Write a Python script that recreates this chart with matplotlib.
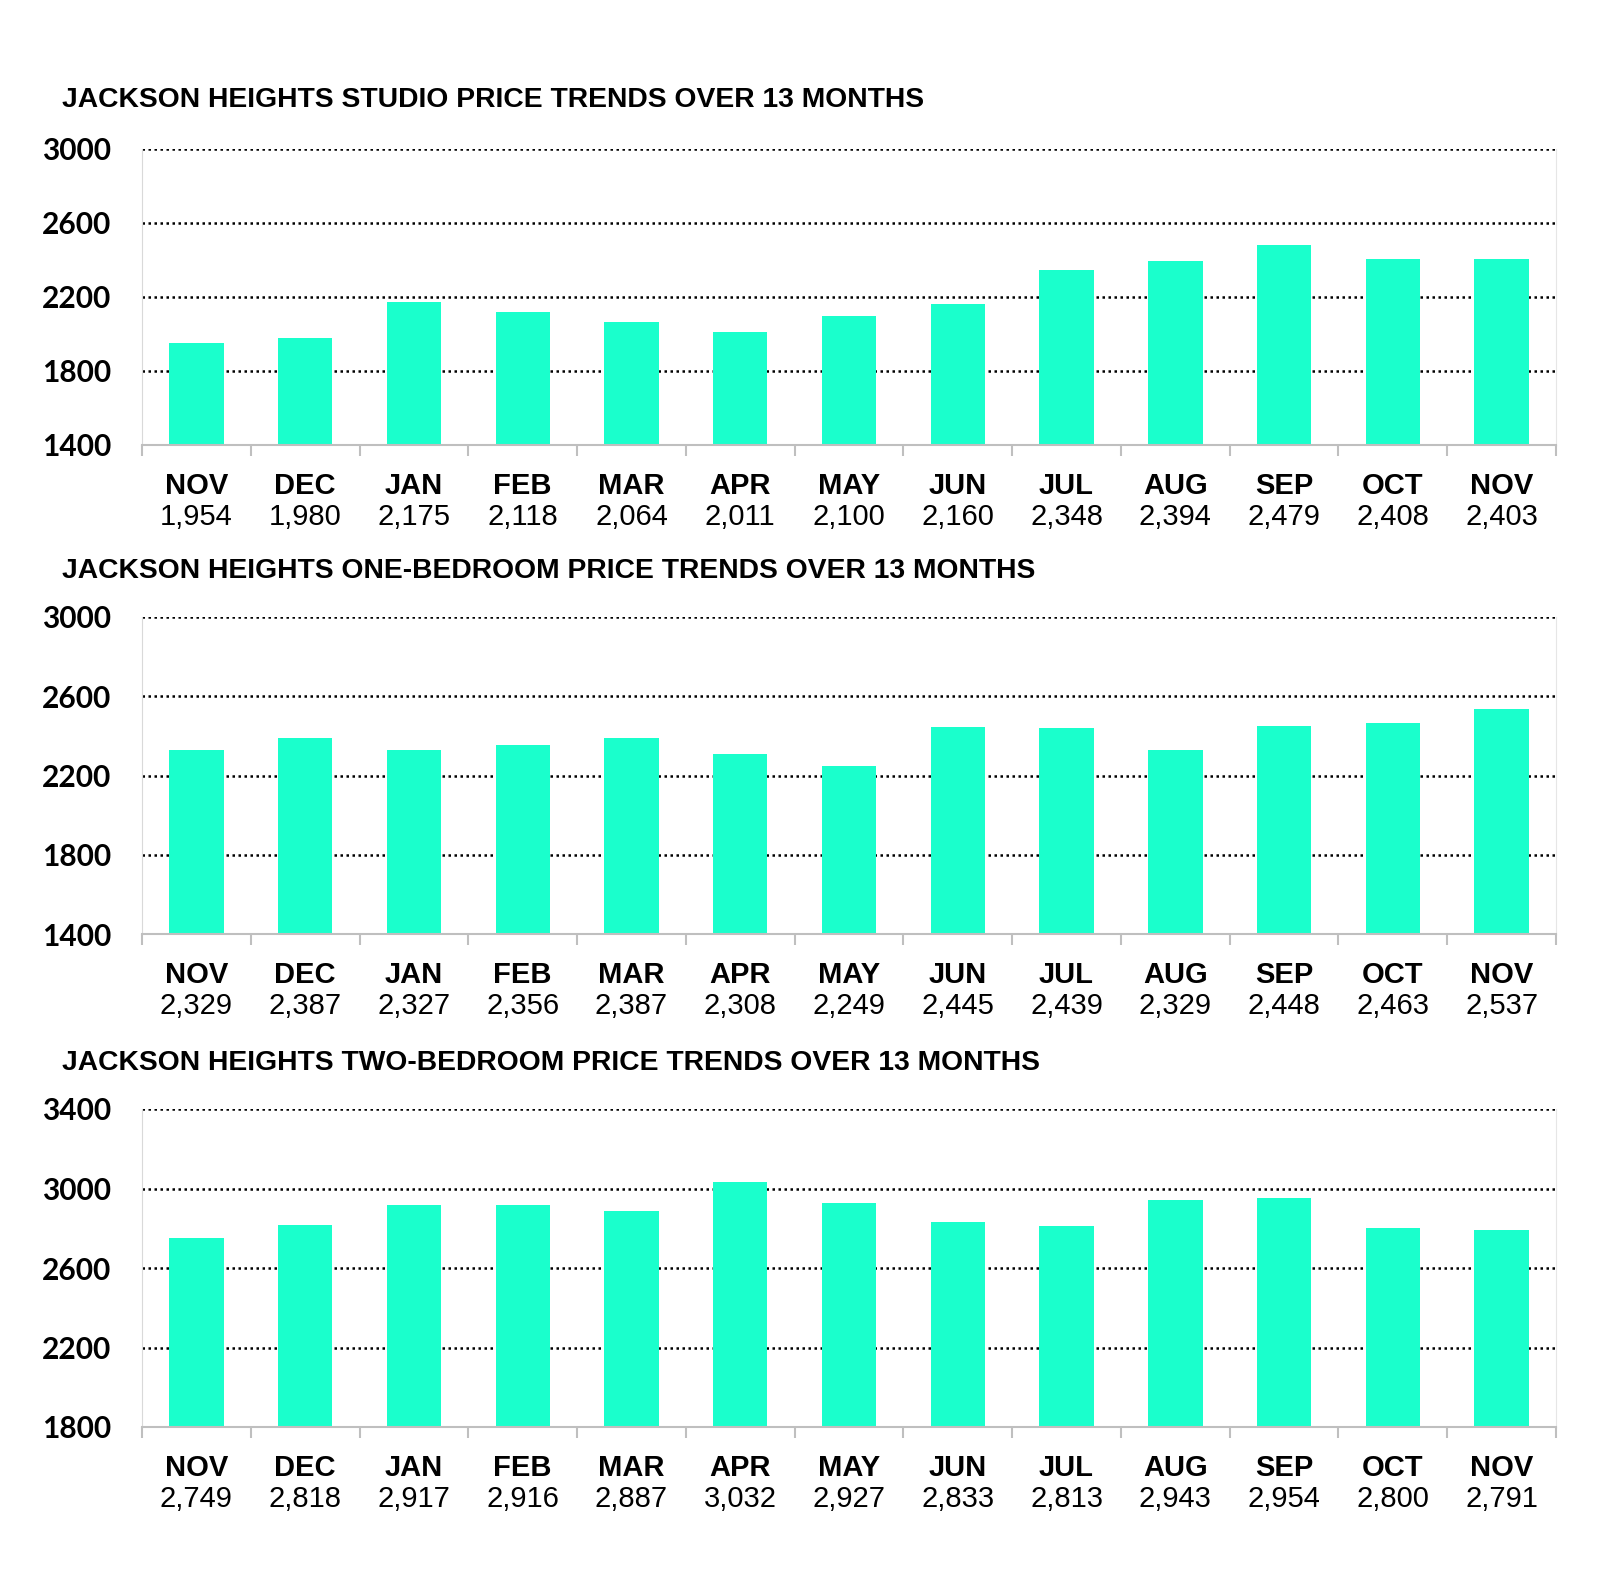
import matplotlib
matplotlib.use("Agg")
import matplotlib.pyplot as plt

# データ
months = ["NOV", "DEC", "JAN", "FEB", "MAR", "APR", "MAY",
          "JUN", "JUL", "AUG", "SEP", "OCT", "NOV"]
studio = [1954, 1980, 2175, 2118, 2064, 2011, 2100, 2160, 2348, 2394, 2479, 2408, 2403]
one_bed = [2329, 2387, 2327, 2356, 2387, 2308, 2249, 2445, 2439, 2329, 2448, 2463, 2537]
two_bed = [2749, 2818, 2917, 2916, 2887, 3032, 2927, 2833, 2813, 2943, 2954, 2800, 2791]

titles = [
    "JACKSON HEIGHTS STUDIO PRICE TRENDS OVER 13 MONTHS",
    "JACKSON HEIGHTS ONE-BEDROOM PRICE TRENDS OVER 13 MONTHS",
    "JACKSON HEIGHTS TWO-BEDROOM PRICE TRENDS OVER 13 MONTHS",
]
y_ticks = [
    [1400, 1800, 2200, 2600, 3000],
    [1400, 1800, 2200, 2600, 3000],
    [1800, 2200, 2600, 3000, 3400],
]

BAR_COLOR = "#1affcc"
W, H = 1600, 1596

fig = plt.figure(figsize=(W / 100, H / 100), dpi=100)

# (axes top px, axes bottom px, title y px)
layout = [(149, 445, 100), (617, 934, 571), (1109, 1427, 1063)]
left_px, right_px = 142, 1556


def draw_panel(values, ticks, title, top, bottom, title_y):
    ax = fig.add_axes([left_px / W, 1 - bottom / H,
                       (right_px - left_px) / W, (bottom - top) / H])
    x = range(len(values))
    ax.bar(x, [v - ticks[0] for v in values], bottom=ticks[0],
           width=0.5, color=BAR_COLOR, zorder=2)
    ax.set_xlim(-0.5, len(values) - 0.5)
    ax.set_ylim(ticks[0], ticks[-1])
    ax.set_yticks(ticks)
    ax.set_yticklabels([str(t) for t in ticks], fontsize=21.5,
                       fontweight="bold", family="Lato")
    ax.tick_params(axis="y", length=0, pad=22)

    # 区切りの目盛り
    ax.set_xticks([i - 0.5 for i in range(len(values) + 1)])
    ax.set_xticklabels([])
    ax.tick_params(axis="x", length=8, width=1.5, color="#bfbfbf", direction="out")

    for t in ticks[1:]:
        ax.axhline(t, color="black", lw=1.8, ls=(0, (1, 1.4)), zorder=1)

    ax.spines["top"].set_visible(False)
    ax.spines["left"].set_color("#d9d9d9")
    ax.spines["right"].set_color("#e6e6e6")
    ax.spines["bottom"].set_color("#bfbfbf")
    ax.spines["bottom"].set_linewidth(1.5)

    for i, (m, v) in enumerate(zip(months, values)):
        ax.annotate(m, xy=(i, 0), xycoords=("data", "axes fraction"),
                    xytext=(0, -29.5), textcoords="offset points",
                    ha="center", va="center", fontsize=21,
                    fontweight="bold", family="Liberation Sans")
        ax.annotate(f"{v:,}", xy=(i, 0), xycoords=("data", "axes fraction"),
                    xytext=(0, -51.5), textcoords="offset points",
                    ha="center", va="center", fontsize=21,
                    family="Liberation Sans")

    fig.text(62 / W, 1 - title_y / H, title, ha="left", va="center",
             fontsize=20.3, fontweight="bold", family="Liberation Sans")


for vals, ticks, title, (top, bottom, ty) in zip(
        [studio, one_bed, two_bed], y_ticks, titles, layout):
    draw_panel(vals, ticks, title, top, bottom, ty)

fig.savefig("out.png", dpi=100, facecolor="white")
